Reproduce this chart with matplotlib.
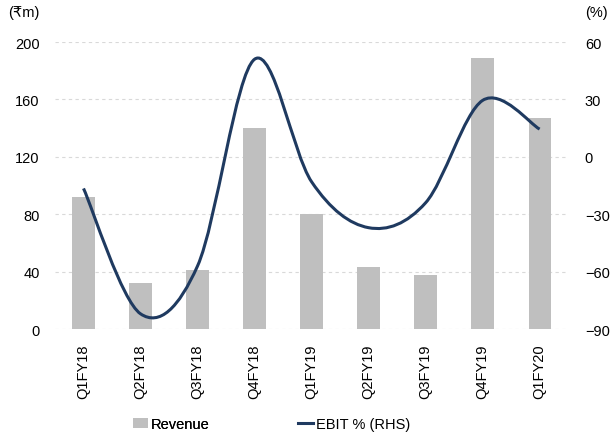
import matplotlib.pyplot as plt
from matplotlib.path import Path
from matplotlib.patches import PathPatch, Patch
from matplotlib.lines import Line2D

plt.rcParams['font.family'] = ['Liberation Sans Narrow', 'Liberation Sans', 'DejaVu Sans']
plt.rcParams['font.size'] = 10.5

quarters = ["Q1FY18", "Q2FY18", "Q3FY18", "Q4FY18", "Q1FY19",
            "Q2FY19", "Q3FY19", "Q4FY19", "Q1FY20"]
revenue = [92, 32, 41, 140, 80, 43, 38, 189, 147]
ebit_pct = [-16.5, -82, -57, 51, -13, -37, -24, 29.5, 14.5]

bar_color = "#bfbfbf"
line_color = "#1f3a60"
grid_color = "#d9d9d9"


def smooth_path(xs, ys):
    # cubic bezier through every point, tangents from neighbours (Excel style smoothing)
    verts = [(xs[0], ys[0])]
    codes = [Path.MOVETO]
    n = len(xs)
    for i in range(n - 1):
        x0, y0 = (xs[i - 1], ys[i - 1]) if i > 0 else (xs[i], ys[i])
        x1, y1 = xs[i], ys[i]
        x2, y2 = xs[i + 1], ys[i + 1]
        x3, y3 = (xs[i + 2], ys[i + 2]) if i + 2 < n else (x2, y2)
        c1 = (x1 + (x2 - x0) / 6, y1 + (y2 - y0) / 6)
        c2 = (x2 - (x3 - x1) / 6, y2 - (y3 - y1) / 6)
        verts += [c1, c2, (x2, y2)]
        codes += [Path.CURVE4] * 3
    return Path(verts, codes)


fig = plt.figure(figsize=(6.16, 4.39), dpi=100)
ax = fig.add_axes([0.0893, 0.248, 0.833, 0.654])
ax2 = ax.twinx()

x = list(range(len(quarters)))
ax.bar(x, revenue, width=0.39, color=bar_color, zorder=2)
ax.set_ylim(0, 200)
ax.set_yticks(range(0, 201, 40))
ax.set_xlim(-0.5, len(quarters) - 0.5)
ax.set_xticks(x)
ax.set_xticklabels(quarters, rotation=90)
ax.grid(axis="y", color=grid_color, linestyle=(0, (3, 3)), linewidth=0.8, zorder=0)
ax.set_axisbelow(True)

ax2.add_patch(PathPatch(smooth_path(x, ebit_pct), facecolor="none",
                        edgecolor=line_color, linewidth=2.2, capstyle="butt", zorder=3))
ax2.set_ylim(-90, 60)
ax2.set_yticks(range(-90, 61, 30))

for a in (ax, ax2):
    for s in a.spines.values():
        s.set_visible(False)
    a.tick_params(length=0, colors="#000000")
ax.tick_params(axis="y", pad=11)
ax.tick_params(axis="x", pad=10)
ax2.tick_params(axis="y", pad=12)

fig.text(0.013, 0.97, "(₹m)", ha="left", va="center", fontsize=10.5)
fig.text(0.95, 0.97, "(%)", ha="left", va="center", fontsize=10.5)

# two legend entries placed on their own
legend_opts = dict(loc="center left", frameon=False, borderpad=0, borderaxespad=0,
                   handlelength=1.05, handleheight=0.7, handletextpad=0.15)
leg1 = fig.legend(handles=[Patch(facecolor=bar_color, label="Revenue")],
                  bbox_to_anchor=(133 / 616, 0.031), **legend_opts)
fig.legend(handles=[Line2D([], [], color=line_color, linewidth=2.2, label="EBIT % (RHS)")],
           bbox_to_anchor=(298 / 616, 0.031), **legend_opts)
fig.add_artist(leg1)

fig.savefig("out.png", dpi=100)
